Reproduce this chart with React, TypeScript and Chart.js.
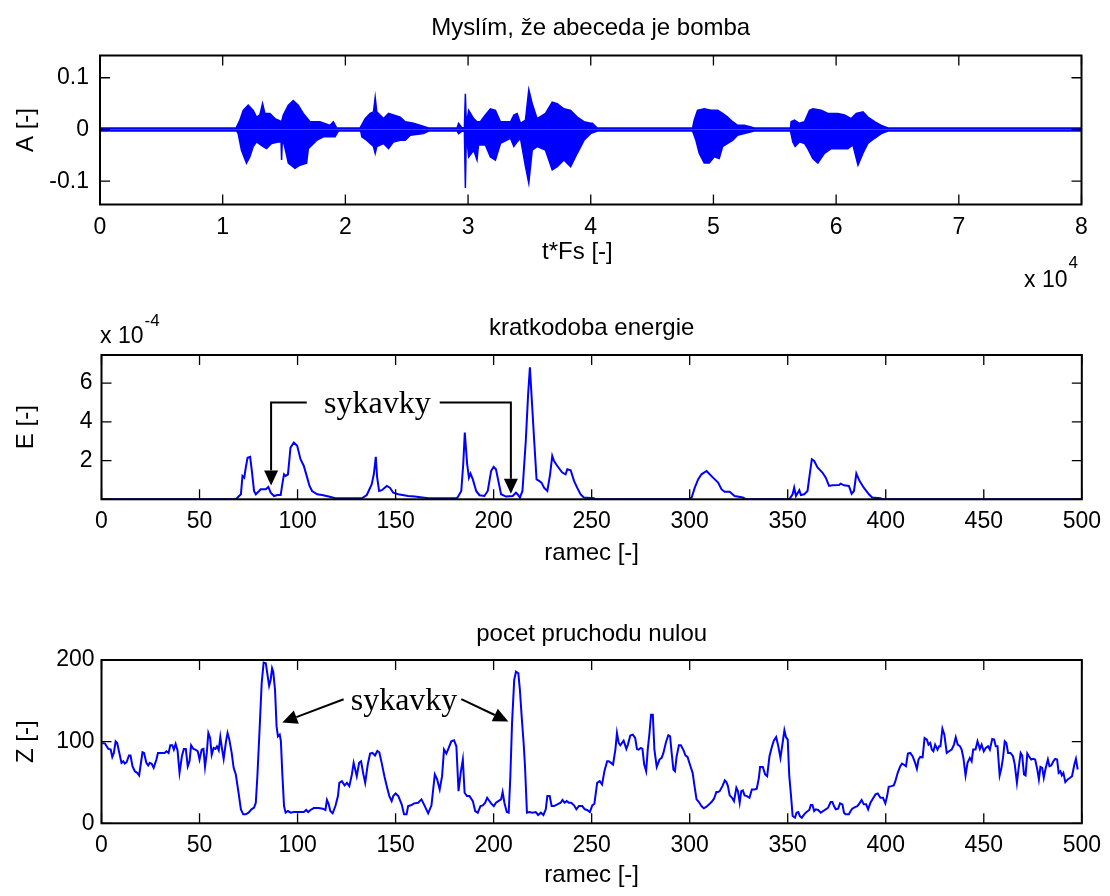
import React, { useEffect, useRef } from "react";
import { Chart, registerables } from "chart.js";
Chart.register(...registerables);

const SANS = "'Liberation Sans', Arial, Helvetica, sans-serif";
const SERIF = "'Liberation Serif', 'Times New Roman', serif";
const BLUE = "#0000ff";

// ---------------- texts ----------------
const title1 = "Myslím, že abeceda je bomba";
const title2 = "kratkodoba energie";
const title3 = "pocet pruchodu nulou";
const xLabel1 = "t*Fs [-]";
const xLabel2 = "ramec [-]";
const yLabel1 = "A [-]";
const yLabel2 = "E [-]";
const yLabel3 = "Z [-]";
const noteText = "sykavky";

// ---------------- plot 1: speech signal envelope [sample, amplitude] ----------------
const waveUpper: [number, number][] = [
  [0, 0.003], [11100, 0.003], [11400, 0.018], [11670, 0.037], [12080, 0.047], [12490, 0.037],
  [12760, 0.024], [13030, 0.028], [13250, 0.05], [13440, 0.031], [13850, 0.031], [14260, 0.021],
  [14800, 0.015], [14940, 0.028], [15350, 0.047], [15750, 0.056], [16160, 0.047], [16570, 0.031],
  [17120, 0.015], [17930, 0.015], [18750, 0.008], [19020, 0.015], [19290, 0.003],
  [21200, 0.003], [21610, 0.021], [22020, 0.031], [22290, 0.034], [22430, 0.062], [22560, 0.034],
  [23110, 0.021], [23520, 0.031], [23920, 0.028], [24470, 0.024], [24880, 0.015], [25560, 0.012],
  [26780, 0.003],
  [29100, 0.003], [29230, 0.012], [29510, 0.003], [29700, 0.004], [29780, 0.069], [29860, 0.01],
  [30050, 0.037], [30460, 0.021], [30730, 0.015], [31000, 0.015], [31410, 0.028], [31820, 0.04],
  [32230, 0.037], [32640, 0.015], [33460, 0.015], [33730, 0.028], [34000, 0.031], [34270, 0.012],
  [34680, 0.018], [34950, 0.077], [35230, 0.05], [35630, 0.021], [36310, 0.031], [36860, 0.053],
  [37270, 0.05], [37810, 0.04], [38360, 0.037], [38900, 0.024], [39450, 0.015], [39990, 0.012],
  [40130, 0.012], [40530, 0.003],
  [48300, 0.003], [48430, 0.018], [48700, 0.037], [49250, 0.04], [49790, 0.037], [50340, 0.037],
  [50750, 0.031], [51160, 0.024], [51560, 0.015], [51970, 0.008], [52520, 0.008], [53060, 0.005],
  [53330, 0.003],
  [56280, 0.003], [56330, 0.015], [56600, 0.018], [57010, 0.012], [57420, 0.015], [57830, 0.037],
  [58100, 0.04], [58780, 0.037], [59330, 0.031], [60140, 0.031], [60690, 0.028], [61230, 0.021],
  [61640, 0.031], [62190, 0.034], [62590, 0.024], [63140, 0.015], [63680, 0.008], [64230, 0.003],
  [80000, 0.003],
];
const waveLower: [number, number][] = [
  [0, -0.003], [11150, -0.003], [11260, -0.008], [11530, -0.04], [11940, -0.065], [12210, -0.053],
  [12490, -0.033], [12760, -0.024], [13300, -0.033], [13580, -0.037], [13980, -0.027], [14530, -0.024],
  [14760, -0.024], [14800, -0.059], [14850, -0.027], [14990, -0.027], [15350, -0.065], [15890, -0.075],
  [16300, -0.069], [16840, -0.065], [16980, -0.037], [17660, -0.021], [18210, -0.014], [19160, -0.014],
  [19430, -0.003],
  [21250, -0.003], [21340, -0.014], [21750, -0.021], [22290, -0.033], [22430, -0.046], [22560, -0.033],
  [23110, -0.027], [23520, -0.037], [23920, -0.024], [24470, -0.021], [24880, -0.021], [25290, -0.011],
  [26370, -0.008], [26780, -0.003],
  [29100, -0.003], [29230, -0.008], [29510, -0.003], [29700, -0.004], [29780, -0.113], [29860, -0.01],
  [30050, -0.053], [30460, -0.04], [30730, -0.059], [30850, -0.03], [31410, -0.03], [31820, -0.053],
  [32230, -0.059], [32640, -0.027], [33460, -0.017], [33730, -0.033], [34000, -0.024], [34270, -0.017],
  [34680, -0.072], [34950, -0.104], [35230, -0.04], [35630, -0.033], [36310, -0.04], [36860, -0.078],
  [37270, -0.072], [37810, -0.059], [38360, -0.072], [38900, -0.046], [39450, -0.021], [39990, -0.008],
  [40530, -0.003],
  [48300, -0.003], [48570, -0.021], [48840, -0.046], [49250, -0.065], [49660, -0.065], [50070, -0.053],
  [50470, -0.056], [50750, -0.033], [51160, -0.027], [51560, -0.021], [51970, -0.011], [52520, -0.008],
  [53330, -0.003],
  [56280, -0.003], [56470, -0.024], [56660, -0.033], [57010, -0.024], [57420, -0.027], [57690, -0.037],
  [58100, -0.056], [58510, -0.065], [59050, -0.046], [59600, -0.037], [60960, -0.037], [61370, -0.03],
  [61780, -0.069], [62190, -0.046], [62590, -0.027], [63140, -0.017], [63680, -0.008], [64230, -0.003],
  [80000, -0.003],
];

// ---------------- plot 2: short-time energy [frame, E x 1e-4] ----------------
const energy: [number, number][] = [
  [0, 0], [68.5, 0], [69.4, 0.09], [71.1, 0.26], [71.9, 1.21], [72.8, 1.12], [73.6, 1.64], [74.5, 2.15],
  [75.8, 2.19], [76.7, 1.46], [77.8, 0.43], [78.7, 0.26], [80.4, 0.43], [81.2, 0.52], [83.8, 0.52],
  [85.1, 0.64], [86.3, 0.34], [88.0, 0.17], [89.7, 0.22], [91.4, 0.22], [92.2, 0.77], [93.1, 1.29],
  [93.9, 1.21], [95.1, 1.29], [96.4, 2.67], [98.1, 2.93], [99.8, 2.76], [101.5, 2.07], [103.2, 1.72],
  [104.9, 1.12], [106.1, 0.69], [107.4, 0.43], [110.0, 0.26], [112.5, 0.22], [115.9, 0.14], [119.3, 0.05],
  [132.8, 0.05], [135.3, 0.22], [137.8, 0.77], [138.9, 1.29], [139.9, 2.19], [140.6, 1.12], [141.6, 0.43],
  [143.0, 0.47], [145.5, 0.69], [147.1, 0.6], [148.8, 0.34], [151.4, 0.26], [156.4, 0.17], [159.8, 0.14],
  [166.6, 0.05], [181.0, 0.05], [181.8, 0.12], [183.5, 0.43], [184.5, 1.81], [185.3, 3.44], [186.5, 1.81],
  [187.4, 1.12], [188.2, 1.33], [189.4, 1.03], [191.1, 0.43], [192.8, 0.21], [195.3, 0.17], [197.0, 0.43],
  [198.7, 1.46], [200.0, 1.67], [201.2, 1.55], [202.4, 0.95], [203.8, 0.26], [206.3, 0.14], [209.7, 0.17],
  [211.4, 0.34], [212.2, 0.26], [213.4, 0.09], [214.7, 0.43], [216.4, 3.01], [217.6, 5.43], [218.5, 6.82],
  [219.3, 5.43], [220.7, 3.01], [221.9, 1.03], [223.2, 0.95], [224.4, 0.86], [225.7, 0.6], [227.4, 0.43],
  [228.8, 1.29], [229.9, 2.24], [230.8, 1.98], [232.5, 1.72], [235.0, 1.38], [236.7, 1.29], [237.6, 1.55],
  [239.3, 1.5], [241.0, 0.95], [242.6, 0.6], [244.3, 0.26], [246.0, 0.09], [251.1, 0.05], [252, 0],
  [299.3, 0], [301.0, 0.09], [302.6, 0.6], [304.3, 1.03], [306.0, 1.29], [308.6, 1.46], [310.2, 1.29],
  [311.9, 1.12], [314.5, 0.86], [316.2, 0.52], [317.8, 0.39], [320.4, 0.39], [322.9, 0.17], [327.1, 0.09],
  [328.8, 0], [350.8, 0], [352.5, 0.26], [353.3, 0.6], [354.2, 0.17], [355.9, 0.47], [356.7, 0.22],
  [358.4, 0.26], [360.1, 0.43], [361.0, 1.12], [362.3, 2.07], [363.5, 1.98], [365.2, 1.64], [367.7, 1.38],
  [369.4, 1.12], [371.1, 0.69], [372.8, 0.72], [376.2, 0.74], [377.0, 0.81], [378.7, 0.72], [381.2, 0.69],
  [382.6, 0.29], [383.8, 0.43], [385.0, 1.33], [386.6, 0.95], [388.8, 0.6], [391.4, 0.26], [393.1, 0.09],
  [397.3, 0.05], [398.1, 0], [500, 0],
];

// ---------------- plot 3: zero crossings per frame [frame, Z] ----------------
const zeroCross: [number, number][] = [
  [0.4, 98.4], [1.8, 97.6], [2.6, 94.3], [3.5, 91.1], [4.7, 90.3], [5.5, 81.3], [6.3, 86.2], [7.2, 100.4],
  [8.0, 98.4], [8.9, 88.2], [10.2, 74.0], [11.1, 76.0], [11.9, 73.2], [12.8, 74.8], [14.0, 83.0], [14.8, 83.0],
  [15.8, 69.9], [17.0, 63.8], [18.2, 61.8], [19.2, 58.6], [20.0, 72.0], [20.9, 87.0], [21.7, 86.2], [22.9, 74.0],
  [23.8, 70.8], [24.6, 74.0], [25.6, 72.8], [26.6, 67.9], [28.0, 78.1], [28.8, 86.2], [30.5, 86.2], [32.2, 86.2],
  [33.1, 88.2], [34.2, 86.2], [35.1, 95.6], [36.1, 95.6], [36.9, 90.3], [37.8, 97.2], [38.8, 89.1], [39.8, 61.8],
  [41.0, 82.1], [42.0, 91.1], [43.0, 91.1], [44.0, 69.9], [44.9, 76.0], [45.7, 95.6], [46.9, 91.1], [47.9, 90.3],
  [49.1, 88.2], [50.0, 78.1], [51.1, 90.3], [52.0, 91.1], [52.8, 69.1], [53.7, 86.2], [54.5, 110.6], [55.4, 104.5],
  [56.2, 83.8], [57.2, 92.3], [58.1, 91.1], [58.9, 94.3], [59.8, 89.5], [60.6, 105.7], [61.4, 92.3], [62.3, 78.9],
  [63.5, 100.4], [64.3, 110.6], [65.2, 102.5], [66.4, 86.2], [67.4, 67.9], [68.5, 59.8], [69.9, 37.4], [71.1, 17.1],
  [72.3, 11.0], [73.6, 11.0], [75.0, 13.0], [76.5, 17.1], [77.8, 19.1], [78.7, 25.2], [79.5, 57.7], [80.7, 118.7],
  [81.7, 171.6], [82.7, 196.8], [83.8, 196.0], [84.8, 179.7], [85.5, 168.4], [86.3, 175.7], [87.0, 189.9],
  [87.6, 185.8], [88.5, 163.5], [89.3, 118.7], [90.0, 106.5], [90.9, 108.6], [91.5, 100.4], [92.2, 61.8],
  [93.1, 21.1], [93.9, 13.0], [95.1, 15.0], [96.4, 13.0], [98.1, 13.8], [100.7, 13.8], [103.2, 13.8],
  [104.4, 16.3], [105.4, 13.8], [106.6, 16.3], [108.3, 18.7], [110.8, 18.7], [112.8, 17.9], [114.2, 16.3],
  [115.0, 28.5], [115.9, 23.2], [116.7, 15.0], [117.9, 12.2], [119.3, 21.1], [120.6, 33.3], [121.3, 49.6],
  [122.6, 51.6], [124.0, 46.4], [125.2, 49.6], [126.4, 45.5], [127.7, 59.8], [128.6, 74.0], [129.4, 65.9],
  [130.2, 57.7], [131.4, 74.0], [132.4, 76.0], [133.6, 59.8], [134.5, 49.6], [135.8, 72.0], [137.0, 85.4],
  [138.2, 86.2], [139.5, 83.0], [140.7, 88.7], [141.7, 87.0], [142.9, 74.0], [144.3, 57.7], [145.5, 45.5],
  [146.8, 33.3], [148.0, 27.2], [148.8, 33.3], [150.0, 36.6], [151.4, 33.3], [153.1, 23.2], [154.3, 11.0],
  [155.6, 11.0], [156.4, 21.1], [157.8, 22.0], [159.5, 24.4], [161.5, 25.2], [163.2, 29.3], [164.9, 21.1],
  [166.6, 12.2], [168.3, 22.0], [170.0, 59.8], [171.2, 53.7], [172.5, 41.5], [173.7, 57.7], [174.7, 90.3],
  [175.9, 85.4], [177.1, 92.3], [178.4, 100.4], [179.8, 101.7], [181.0, 94.3], [182.1, 39.4], [183.2, 61.8],
  [184.3, 78.1], [185.2, 37.4], [186.4, 33.3], [187.7, 33.3], [189.4, 27.2], [190.6, 15.0], [191.9, 13.0],
  [193.3, 21.1], [194.5, 22.0], [195.7, 25.2], [196.7, 31.3], [197.5, 28.5], [198.7, 24.4], [200.1, 21.1],
  [201.2, 25.2], [202.4, 27.2], [203.8, 29.3], [204.6, 38.2], [205.5, 25.2], [206.7, 13.8], [207.7, 13.0],
  [208.5, 55.7], [209.4, 122.8], [210.5, 175.7], [211.4, 185.8], [212.6, 183.8], [213.4, 163.5], [214.3, 130.9],
  [215.3, 98.4], [216.0, 69.9], [217.0, 13.0], [218.2, 13.8], [219.8, 13.0], [221.5, 13.8], [222.7, 10.2],
  [224.1, 13.0], [225.4, 10.2], [226.6, 17.1], [227.4, 33.3], [228.6, 33.3], [229.6, 21.1], [230.8, 21.1],
  [232.5, 23.2], [234.2, 25.2], [235.1, 28.5], [236.2, 25.2], [237.3, 27.2], [238.4, 25.2], [239.6, 25.2],
  [241.0, 22.0], [242.2, 17.1], [243.5, 21.1], [245.2, 21.1], [246.5, 17.1], [247.7, 16.3], [249.1, 13.8],
  [250.3, 22.0], [251.4, 24.0], [252.8, 49.6], [254.1, 51.6], [255.3, 47.6], [256.5, 63.8], [257.9, 76.0],
  [258.7, 76.0], [259.9, 74.0], [260.9, 72.0], [262.1, 90.3], [262.9, 110.6], [263.8, 98.4], [264.6, 95.6],
  [266.3, 101.3], [267.7, 91.1], [268.5, 96.4], [269.7, 107.4], [271.0, 108.6], [272.2, 104.5], [273.1, 91.1],
  [273.9, 90.3], [275.1, 92.3], [275.9, 91.1], [276.8, 72.0], [277.8, 63.8], [278.6, 90.3], [279.5, 110.6],
  [280.3, 133.0], [281.2, 133.0], [282.0, 90.3], [283.2, 69.1], [284.6, 78.1], [285.7, 80.1], [286.6, 86.2],
  [287.9, 99.2], [289.1, 107.8], [290.0, 106.5], [290.8, 86.2], [291.7, 65.9], [292.5, 63.8], [293.3, 81.3],
  [294.5, 95.6], [295.5, 95.6], [296.7, 90.3], [297.9, 83.0], [298.9, 81.3], [300.1, 72.0], [301.5, 61.8],
  [302.6, 43.5], [303.5, 29.3], [304.7, 26.0], [306.0, 21.1], [307.2, 18.3], [308.6, 20.3], [309.9, 23.2],
  [311.1, 26.0], [312.4, 30.1], [313.6, 38.2], [314.5, 38.2], [315.3, 39.4], [316.7, 45.5], [317.9, 52.5],
  [318.7, 50.4], [319.5, 45.5], [320.4, 34.2], [321.6, 31.3], [322.6, 27.2], [323.8, 43.5], [324.6, 39.4],
  [325.5, 25.2], [326.3, 39.4], [327.1, 40.3], [328.0, 34.2], [329.2, 33.3], [330.5, 31.3], [331.7, 41.5],
  [333.1, 41.5], [334.2, 42.3], [335.3, 55.7], [335.9, 69.1], [337.3, 69.1], [338.5, 59.8], [339.5, 57.7],
  [340.7, 82.1], [341.9, 93.5], [342.9, 101.3], [344.1, 105.7], [345.2, 94.3], [346.3, 80.1], [347.4, 98.4],
  [348.3, 113.9], [349.1, 105.7], [350.0, 102.5], [350.8, 57.7], [351.7, 33.3], [352.5, 8.9], [353.7, 6.9],
  [354.5, 13.0], [355.4, 13.8], [356.2, 8.9], [357.2, 6.9], [358.4, 11.0], [359.6, 13.8], [361.0, 16.3],
  [361.8, 22.4], [362.6, 22.4], [363.5, 15.0], [364.3, 17.1], [365.5, 16.3], [366.9, 13.0], [368.1, 15.0],
  [369.4, 17.1], [370.6, 19.1], [371.9, 26.0], [372.8, 26.0], [373.6, 21.1], [374.5, 17.1], [375.7, 17.9],
  [376.7, 24.4], [377.9, 23.2], [378.7, 13.0], [379.5, 11.0], [381.2, 11.0], [382.1, 15.0], [382.9, 17.9],
  [384.3, 19.9], [385.5, 21.1], [386.6, 24.4], [387.7, 28.5], [388.8, 23.2], [390.0, 23.2], [391.0, 17.1],
  [392.2, 25.2], [393.4, 30.1], [394.8, 35.4], [395.9, 36.6], [397.3, 31.3], [398.6, 31.3], [399.8, 24.4],
  [400.7, 33.3], [401.5, 44.7], [402.9, 45.5], [404.1, 46.4], [404.9, 51.6], [406.1, 61.8], [407.4, 69.9],
  [408.3, 73.2], [409.1, 72.0], [410.3, 69.9], [411.3, 85.4], [412.5, 86.2], [413.7, 82.1], [415.0, 74.0],
  [415.9, 66.7], [416.7, 78.1], [417.6, 81.3], [418.8, 80.9], [419.8, 104.5], [421.0, 102.5], [421.8, 96.4],
  [422.7, 98.4], [423.5, 90.3], [424.3, 88.2], [425.2, 96.4], [426.4, 90.3], [427.2, 94.3], [427.9, 94.3],
  [428.9, 115.9], [429.9, 108.6], [431.1, 86.2], [432.3, 88.2], [433.6, 90.3], [434.8, 96.4], [435.7, 105.3],
  [436.7, 96.4], [437.9, 94.3], [438.7, 90.3], [439.6, 80.1], [440.7, 58.6], [441.7, 74.0], [442.9, 80.1],
  [443.8, 76.0], [444.6, 90.3], [445.8, 90.3], [446.8, 100.4], [448.0, 91.1], [448.9, 96.4], [450.0, 88.2],
  [451.0, 92.3], [452.2, 94.3], [453.1, 90.3], [454.3, 103.3], [455.3, 102.5], [456.1, 94.3], [457.0, 94.3],
  [458.1, 58.6], [459.0, 67.9], [459.8, 80.1], [460.7, 100.4], [461.5, 98.4], [462.4, 86.2], [463.6, 86.2],
  [464.9, 82.1], [465.8, 72.0], [466.9, 49.6], [467.8, 67.9], [468.8, 86.2], [469.6, 83.0], [470.5, 59.8],
  [471.3, 58.6], [472.2, 85.4], [473.0, 82.1], [474.2, 78.1], [475.1, 78.9], [476.2, 78.1], [477.3, 65.9],
  [478.1, 53.7], [478.9, 69.1], [479.8, 67.9], [480.6, 55.7], [481.5, 66.7], [482.7, 78.1], [483.5, 69.9],
  [484.4, 70.8], [485.5, 76.0], [486.4, 78.9], [487.4, 78.1], [488.2, 61.8], [489.1, 63.8], [489.8, 58.6],
  [490.6, 61.8], [491.6, 50.4], [492.8, 53.7], [494.0, 55.7], [495.0, 57.7], [496.2, 72.0], [497.0, 78.9],
  [497.9, 65.9],
];

// ---------------- annotations (data coordinates) ----------------
const energyNotePos: [number, number] = [140.7, 4.47];
const energyArrowLeft: [number, number][] = [[104.7, 5.0], [86.5, 5.0], [86.5, 0.71]];
const energyArrowRight: [number, number][] = [[172.5, 5.0], [208.8, 5.0], [208.8, 0.29]];
const zcNotePos: [number, number] = [154.3, 139];
const zcArrowLeft: [number, number][] = [[123.5, 152], [92.2, 123.5]];
const zcArrowRight: [number, number][] = [[183.5, 152], [207.5, 124.8]];

// ---------------- axis settings ----------------
const ampTicks = { min: -0.145, max: 0.143, step: 0.1 };
const sampleTicks = { min: 0, max: 80000, step: 10000 };
const frameTicks = { min: 0, max: 500, step: 50 };
const energyTicks = { min: 0, max: 7.45, step: 2 };
const zcTicks = { min: 0, max: 200, step: 100 };

const TICK_SIZE = 23;
const LABEL_SIZE = 24;
const font = (size: number) => ({ family: SANS, size, weight: "normal" as const, lineHeight: 1.2 });

const matlabBox = {
  id: "matlabBox",
  afterDatasetsDraw(chart: any) {
    const { ctx, chartArea: a, scales } = chart;
    const x = scales.x;
    const y = scales.y;
    const L = 10;
    ctx.save();
    ctx.strokeStyle = "#000";
    ctx.lineWidth = 1.3;
    ctx.beginPath();
    x.ticks.forEach((t: any) => {
      const p = x.getPixelForValue(t.value);
      ctx.moveTo(p, a.bottom);
      ctx.lineTo(p, a.bottom - L);
      ctx.moveTo(p, a.top);
      ctx.lineTo(p, a.top + L);
    });
    y.ticks.forEach((t: any) => {
      const p = y.getPixelForValue(t.value);
      ctx.moveTo(a.left, p);
      ctx.lineTo(a.left + L, p);
      ctx.moveTo(a.right, p);
      ctx.lineTo(a.right - L, p);
    });
    ctx.stroke();
    ctx.lineWidth = 2;
    ctx.strokeRect(a.left, a.top, a.right - a.left, a.bottom - a.top);
    ctx.restore();
  },
};

function drawArrow(ctx: CanvasRenderingContext2D, chart: any, pts: [number, number][]) {
  const x = chart.scales.x;
  const y = chart.scales.y;
  const p = pts.map(([a, b]) => [x.getPixelForValue(a), y.getPixelForValue(b)]);
  const n = p.length;
  const [x1, y1] = p[n - 2];
  const [x2, y2] = p[n - 1];
  const ang = Math.atan2(y2 - y1, x2 - x1);
  const HL = 15;
  const HW = 7;
  const bx = x2 - HL * Math.cos(ang);
  const by = y2 - HL * Math.sin(ang);
  ctx.beginPath();
  ctx.moveTo(p[0][0], p[0][1]);
  for (let i = 1; i < n - 1; i++) ctx.lineTo(p[i][0], p[i][1]);
  ctx.lineTo(bx, by);
  ctx.stroke();
  ctx.beginPath();
  ctx.moveTo(x2, y2);
  ctx.lineTo(bx + HW * Math.sin(ang), by - HW * Math.cos(ang));
  ctx.lineTo(bx - HW * Math.sin(ang), by + HW * Math.cos(ang));
  ctx.closePath();
  ctx.fill();
}

function notesPlugin(opts: {
  mult?: { text: string; sup: string; x: number; y: number; supDx: number; supDy: number };
  note?: { pos: [number, number]; arrows: [number, number][][] };
}) {
  return {
    id: "notes",
    afterDraw(chart: any) {
      const { ctx } = chart;
      ctx.save();
      ctx.fillStyle = "#000";
      ctx.strokeStyle = "#000";
      if (opts.mult) {
        const m = opts.mult;
        ctx.font = `${TICK_SIZE}px ${SANS}`;
        ctx.textAlign = "left";
        ctx.textBaseline = "alphabetic";
        ctx.fillText(m.text, m.x, m.y);
        const w = ctx.measureText(m.text).width;
        ctx.font = `17px ${SANS}`;
        ctx.fillText(m.sup, m.x + w + m.supDx, m.y + m.supDy);
      }
      if (opts.note) {
        const x = chart.scales.x;
        const y = chart.scales.y;
        ctx.font = `32px ${SERIF}`;
        ctx.textAlign = "center";
        ctx.textBaseline = "alphabetic";
        ctx.fillText(noteText, x.getPixelForValue(opts.note.pos[0]), y.getPixelForValue(opts.note.pos[1]));
        ctx.lineWidth = 2;
        opts.note.arrows.forEach((a) => drawArrow(ctx, chart, a));
      }
      ctx.restore();
    },
  };
}

type Cfg = {
  title: string;
  titlePad: { top: number; bottom: number };
  layoutPad: { left: number; right: number; top: number; bottom: number };
  xAxis: { min: number; max: number; step: number };
  yAxis: { min: number; max: number; step: number };
  xLabel: string;
  yLabel: string;
  xHeight: number;
  yWidth: number;
  yTickPad: number;
  xFmt: (v: number) => string;
  yFmt: (v: number) => string;
  datasets: any[];
  plugins: any[];
};

function buildConfig(c: Cfg): any {
  return {
    type: "line",
    data: { datasets: c.datasets },
    options: {
      responsive: false,
      maintainAspectRatio: false,
      animation: false,
      events: [],
      layout: { padding: c.layoutPad },
      plugins: {
        legend: { display: false },
        tooltip: { enabled: false },
        title: {
          display: true,
          text: c.title,
          color: "#000",
          font: font(LABEL_SIZE),
          fullSize: false,
          padding: c.titlePad,
        },
      },
      scales: {
        x: {
          type: "linear",
          min: c.xAxis.min,
          max: c.xAxis.max,
          grid: { display: false, drawTicks: false },
          border: { display: false },
          ticks: {
            stepSize: c.xAxis.step,
            includeBounds: false,
            autoSkip: false,
            maxRotation: 0,
            padding: 9,
            color: "#000",
            font: font(TICK_SIZE),
            callback: (v: number) => c.xFmt(v),
          },
          title: { display: true, text: c.xLabel, color: "#000", font: font(LABEL_SIZE), padding: { top: 0, bottom: 0 } },
          afterFit: (s: any) => {
            s.height = c.xHeight;
          },
        },
        y: {
          type: "linear",
          min: c.yAxis.min,
          max: c.yAxis.max,
          grid: { display: false, drawTicks: false },
          border: { display: false },
          ticks: {
            stepSize: c.yAxis.step,
            includeBounds: false,
            autoSkip: false,
            padding: c.yTickPad,
            color: "#000",
            font: font(TICK_SIZE),
            callback: (v: number) => c.yFmt(v),
          },
          title: { display: true, text: c.yLabel, color: "#000", font: font(LABEL_SIZE), padding: { top: 11.6, bottom: 0 } },
          afterFit: (s: any) => {
            s.width = c.yWidth;
          },
        },
      },
    },
    plugins: [matlabBox, ...c.plugins],
  };
}

const toXY = (arr: [number, number][]) => arr.map(([x, y]) => ({ x, y }));
const lineDs = (arr: [number, number][], w: number, fill: any = false) => ({
  data: toXY(arr),
  borderColor: BLUE,
  backgroundColor: BLUE,
  borderWidth: w,
  pointRadius: 0,
  tension: 0,
  fill,
});

export default function App() {
  const c1 = useRef<HTMLCanvasElement>(null);
  const c2 = useRef<HTMLCanvasElement>(null);
  const c3 = useRef<HTMLCanvasElement>(null);

  useEffect(() => {
    const cfg1 = buildConfig({
      title: title1,
      titlePad: { top: 13.6, bottom: 13.1 },
      layoutPad: { left: 0, right: 28.5, top: 0, bottom: 33.6 },
      xAxis: sampleTicks,
      yAxis: ampTicks,
      xLabel: xLabel1 + "    ",
      yLabel: yLabel1,
      xHeight: 61.9,
      yWidth: 100,
      yTickPad: 11,
      xFmt: (v) => String(Math.round(v / 10000)),
      yFmt: (v) => String(Math.round(v * 10) / 10),
      datasets: [lineDs(waveUpper, 1.5, "origin"), lineDs(waveLower, 1.5, "origin")],
      plugins: [notesPlugin({ mult: { text: "x 10", sup: "4", x: 1024, y: 287, supDx: 1, supDy: -19 } })],
    });
    const cfg2 = buildConfig({
      title: title2,
      titlePad: { top: 13.6, bottom: 12.6 },
      layoutPad: { left: 0, right: 23, top: 0, bottom: 32.6 },
      xAxis: frameTicks,
      yAxis: energyTicks,
      xLabel: xLabel2,
      yLabel: yLabel2,
      xHeight: 68.1,
      yWidth: 101.5,
      yTickPad: 9,
      xFmt: (v) => String(v),
      yFmt: (v) => (v === 0 ? "" : String(v)),
      datasets: [lineDs(energy, 2)],
      plugins: [
        notesPlugin({
          mult: { text: "x 10", sup: "-4", x: 100, y: 43, supDx: 1, supDy: -17 },
          note: { pos: energyNotePos, arrows: [energyArrowLeft, energyArrowRight] },
        }),
      ],
    });
    const cfg3 = buildConfig({
      title: title3,
      titlePad: { top: 19.6, bottom: 11.6 },
      layoutPad: { left: 0, right: 23, top: 0, bottom: 6.6 },
      xAxis: frameTicks,
      yAxis: zcTicks,
      xLabel: xLabel2,
      yLabel: yLabel3,
      xHeight: 66.1,
      yWidth: 101.5,
      yTickPad: 7,
      xFmt: (v) => String(v),
      yFmt: (v) => String(v),
      datasets: [lineDs(zeroCross, 2)],
      plugins: [notesPlugin({ note: { pos: zcNotePos, arrows: [zcArrowLeft, zcArrowRight] } })],
    });
    const charts = [new Chart(c1.current!, cfg1), new Chart(c2.current!, cfg2), new Chart(c3.current!, cfg3)];
    return () => charts.forEach((ch) => ch.destroy());
  }, []);

  return (
    <div style={{ position: "absolute", left: 0, top: 0, width: 1110, height: 896, background: "#fff" }}>
      <canvas ref={c1} width={1110} height={300} style={{ position: "absolute", left: 0, top: 0 }} />
      <canvas ref={c2} width={1110} height={300} style={{ position: "absolute", left: 0, top: 300 }} />
      <canvas ref={c3} width={1110} height={296} style={{ position: "absolute", left: 0, top: 600 }} />
    </div>
  );
}
